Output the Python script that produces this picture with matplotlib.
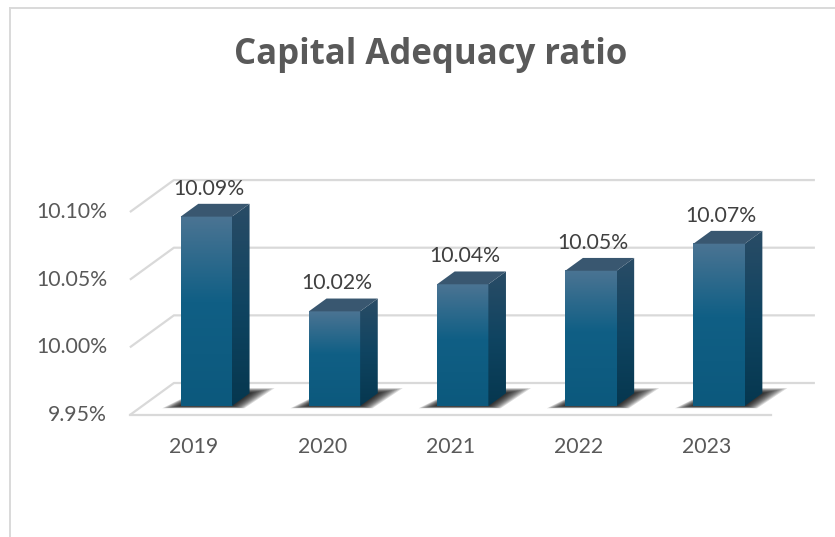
import numpy as np
import matplotlib.pyplot as plt
from matplotlib.patches import Polygon
from matplotlib.lines import Line2D
from matplotlib.colors import to_rgb

# Chart data
years = ['2019', '2020', '2021', '2022', '2023']
ratios = [10.09, 10.02, 10.04, 10.05, 10.07]
y_ticks = [9.95, 10.00, 10.05, 10.10]
y_tick_labels = ['9.95%', '10.00%', '10.05%', '10.10%']
value_labels = ['10.09%', '10.02%', '10.04%', '10.05%', '10.07%']
title = 'Capital Adequacy ratio'

W, H = 835, 537
# pixel layout of the front plane
CAT0_PX, CAT_STEP_PX = 194, 128.2   # x of first category, spacing
BASE_PX, UNIT_PX = 415, 1353        # y (from top) of the floor value, px per 1.00
DEPTH_PX = (44, 32)                 # oblique depth vector
BAR_FRONT, BAR_BACK = 0.28, 0.68    # bar depth range (0 = front, 1 = back wall)
HALF_W = 0.2

TEXT = '#595959'
GRID = '#d9d9d9'
FS = 15.3
plt.rcParams['font.family'] = ['Lato', 'DejaVu Sans']

fig = plt.figure(figsize=(W / 100, H / 100), dpi=100)
ax = fig.add_axes([0, 0, 1, 1])
base = y_ticks[0]
ax.set_xlim(-CAT0_PX / CAT_STEP_PX, (W - CAT0_PX) / CAT_STEP_PX)
ax.set_ylim(base - (H - BASE_PX) / UNIT_PX, base + BASE_PX / UNIT_PX)
ax.axis('off')

ddx = DEPTH_PX[0] / CAT_STEP_PX
ddy = DEPTH_PX[1] / UNIT_PX


def proj(x, y, d):
    return (x + d * ddx, y + d * ddy)


def gradient(stops, n=200):
    # stops: list of (position from top 0..1, colour)
    pos = [s[0] for s in stops]
    cols = np.array([to_rgb(s[1]) for s in stops])
    t = np.linspace(0, 1, n)
    arr = np.stack([np.interp(t, pos, cols[:, k]) for k in range(3)], axis=-1)
    return arr[:, None, :]


front_grad = gradient([(0, '#4b7493'), (0.45, '#105f85'), (1, '#0c597d')])
side_grad = gradient([(0, '#2a4c66'), (0.5, '#0f4461'), (1, '#06374f')])

x_lo, x_hi = -0.5, len(years) - 0.5

# walls and gridlines
for t in y_ticks:
    pts = [proj(x_lo, t, 0), proj(x_lo, t, 1), proj(x_hi, t, 1)]
    ax.plot([p[0] for p in pts], [p[1] for p in pts], color=GRID, lw=1.6,
            solid_capstyle='butt', zorder=1)
f0, f1 = proj(x_lo, base, 0), proj(x_hi, base, 0)
ax.plot([f0[0], f1[0]], [f0[1], f1[1]], color=GRID, lw=1.6, zorder=1)

# y tick labels on front plane
for t, lab in zip(y_ticks, y_tick_labels):
    ax.annotate(lab, xy=proj(x_lo, t, 0), xytext=(-16.5, 0), textcoords='offset points',
                ha='right', va='center', fontsize=FS, color=TEXT)

# category labels
for i, yr in enumerate(years):
    ax.annotate(yr, xy=(i, base), xytext=(0, -23), textcoords='offset points',
                ha='center', va='center', fontsize=FS, color=TEXT)

# bars
for i, v in enumerate(ratios):
    xl, xr = i - HALF_W, i + HALF_W

    # soft shadow on the floor
    for s in np.linspace(1, 0.1, 10):
        d0 = BAR_FRONT - 0.07 * s
        d1 = BAR_BACK + 0.16 * s
        sh = [proj(xl - 0.12 * s, base, d0),
              proj(xr + 0.12 * s, base, d0),
              proj(xr + 0.14 * s, base, d1),
              proj(xl - 0.02 * s, base, d1)]
        ax.add_patch(Polygon(sh, closed=True, facecolor='black', edgecolor='none',
                             alpha=0.14, zorder=2))

    # front face
    fx0, fy0 = proj(xl, base, BAR_FRONT)
    fx1, fy1 = proj(xr, v, BAR_FRONT)
    ax.imshow(front_grad, extent=(fx0, fx1, fy0, fy1), origin='upper',
              aspect='auto', interpolation='bilinear', zorder=4)

    # side face
    side = [proj(xr, base, BAR_FRONT), proj(xr, base, BAR_BACK),
            proj(xr, v, BAR_BACK), proj(xr, v, BAR_FRONT)]
    side_poly = Polygon(side, closed=True, transform=ax.transData)
    sx = [p[0] for p in side]
    sy = [p[1] for p in side]
    im = ax.imshow(side_grad, extent=(min(sx), max(sx), min(sy), max(sy)),
                   origin='upper', aspect='auto', interpolation='bilinear', zorder=4)
    im.set_clip_path(side_poly)

    # top face
    top = [proj(xl, v, BAR_FRONT), proj(xr, v, BAR_FRONT),
           proj(xr, v, BAR_BACK), proj(xl, v, BAR_BACK)]
    ax.add_patch(Polygon(top, closed=True, facecolor='#395770', edgecolor='none', zorder=4))

    # value label
    ax.annotate(value_labels[i], xy=proj(i, v, BAR_FRONT + 0.05), xytext=(0, 19),
                textcoords='offset points', ha='center', va='center',
                fontsize=FS, color='#404040', zorder=5)

ax.set_xlim(-CAT0_PX / CAT_STEP_PX, (W - CAT0_PX) / CAT_STEP_PX)
ax.set_ylim(base - (H - BASE_PX) / UNIT_PX, base + BASE_PX / UNIT_PX)

# title
fig.text(431 / W, 1 - 64 / H, title, ha='center', va='baseline', fontsize=25,
         fontweight='bold', color=TEXT, family=['Open Sans', 'DejaVu Sans'])

# chart area border (left and top edges visible)
fig.add_artist(Line2D([9.5 / W, 9.5 / W], [0, 1 - 8 / H], color=GRID, lw=1.4))
fig.add_artist(Line2D([9.5 / W, 1], [1 - 8 / H, 1 - 8 / H], color=GRID, lw=1.4))

fig.savefig('out.png', dpi=100)
